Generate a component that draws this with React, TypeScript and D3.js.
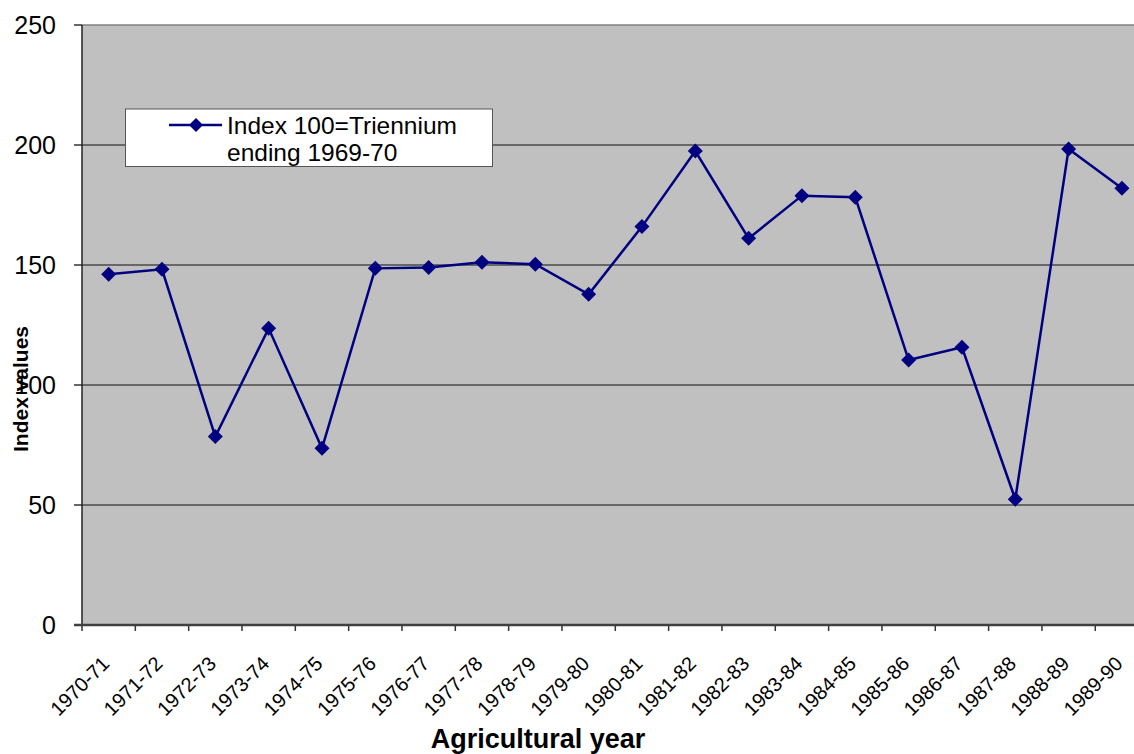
import React from "react";
import * as d3 from "d3";

const categories = [
  "1970-71", "1971-72", "1972-73", "1973-74", "1974-75", "1975-76", "1976-77",
  "1977-78", "1978-79", "1979-80", "1980-81", "1981-82", "1982-83", "1983-84",
  "1984-85", "1985-86", "1986-87", "1987-88", "1988-89", "1989-90",
];
const indexValues = [
  146.1, 148.2, 78.5, 123.6, 73.6, 148.6, 149.0, 151.1, 150.3, 137.8,
  166.0, 197.5, 161.1, 178.9, 178.2, 110.4, 115.7, 52.4, 198.3, 182.0,
];
const yTicks = [0, 50, 100, 150, 200, 250];
const seriesName = ["Index 100=Triennium", "ending 1969-70"];
const xTitle = "Agricultural year";
const yTitle = "Index values";

const W = 1134;
const H = 754;
const FONT = "Arial, 'Liberation Sans', Helvetica, sans-serif";
const NAVY = "#000080";

export default function App() {
  const left = 82;
  const top = 25;
  const bottom = 625;
  const right = left + 20 * 53.33;

  const x = d3.scaleBand<string>().domain(categories).range([left, right]).padding(0);
  const y = d3.scaleLinear().domain([0, 250]).range([bottom, top]);
  const cx = (c: string) => (x(c) as number) + x.bandwidth() / 2;

  const line = d3
    .line<number>()
    .x((_, i) => cx(categories[i]))
    .y((v) => y(v));

  const diamond = (px: number, py: number, r = 7.5) =>
    `M${px},${py - r}L${px + r},${py}L${px},${py + r}L${px - r},${py}Z`;

  const boundaries = categories.map((c) => x(c) as number).concat([right]);

  return (
    <svg
      width={W}
      height={H}
      style={{ position: "absolute", left: 0, top: 0, background: "#fff" }}
      fontFamily={FONT}
    >
      <rect x={left} y={top} width={right - left} height={bottom - top} fill="#c0c0c0" />
      {yTicks.map((t) => (
        <g key={t}>
          {t > 0 && (
            <line x1={left} x2={right} y1={y(t)} y2={y(t)} stroke={t === 250 ? "#808080" : "#4a4a4a"} strokeWidth={1.5} />
          )}
          <line x1={74} x2={left} y1={y(t)} y2={y(t)} stroke="#333" strokeWidth={1.5} />
          <text x={56} y={y(t)} dy="0.36em" textAnchor="end" fontSize={25} fill="#000">
            {t}
          </text>
        </g>
      ))}
      <line x1={left} x2={left} y1={top} y2={bottom} stroke="#222" strokeWidth={1.5} />
      {boundaries.map((b, i) => (
        <line key={i} x1={b} x2={b} y1={bottom} y2={bottom + 6} stroke="#333" strokeWidth={1.5} />
      ))}
      <line x1={left - 8} x2={right} y1={bottom} y2={bottom} stroke="#404040" strokeWidth={2.5} />

      {categories.map((c) => (
        <text
          key={c}
          transform={`translate(${cx(c) + 2},${bottom + 40}) rotate(-45)`}
          textAnchor="end"
          fontSize={20}
          fill="#000"
        >
          {c}
        </text>
      ))}

      <path d={line(indexValues) || ""} fill="none" stroke={NAVY} strokeWidth={2.5} />
      {indexValues.map((v, i) => (
        <path key={i} d={diamond(cx(categories[i]), y(v))} fill={NAVY} />
      ))}

      <g>
        <rect x={125.5} y={109} width={367} height={57.5} fill="#fff" stroke="#555" strokeWidth={1} />
        <line x1={169} x2={222} y1={125} y2={125} stroke={NAVY} strokeWidth={2.5} />
        <path d={diamond(196, 125, 7)} fill={NAVY} />
        <text x={227} y={133.5} fontSize={24.5} fill="#000">
          {seriesName[0]}
        </text>
        <text x={227} y={161} fontSize={24.5} fill="#000">
          {seriesName[1]}
        </text>
      </g>

      <text x={538} y={748} textAnchor="middle" fontSize={27} fontWeight="bold" fill="#000">
        {xTitle}
      </text>
      <text
        transform={`translate(28,389) rotate(-90)`}
        textAnchor="middle"
        fontSize={21}
        fontWeight="bold"
        fill="#000"
      >
        {yTitle}
      </text>
    </svg>
  );
}
